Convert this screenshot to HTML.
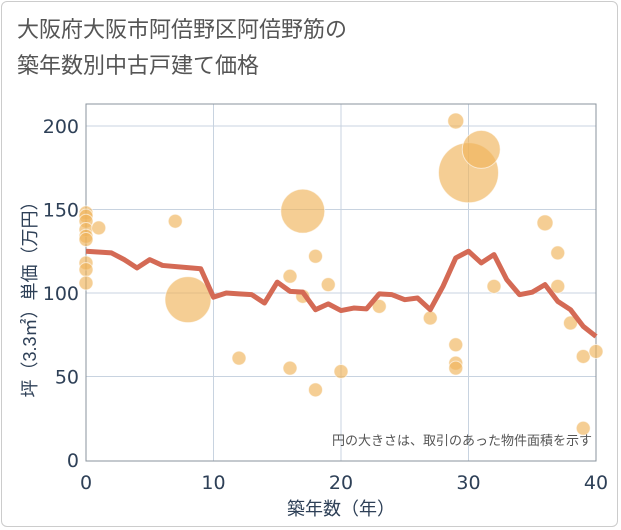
<!DOCTYPE html>
<html><head><meta charset="utf-8"><style>
body{margin:0;background:#fff;}
#wrap{position:relative;width:621px;height:530px;font-family:"Liberation Sans","Noto Sans CJK JP",sans-serif;}
#frame{position:absolute;left:1px;top:1px;width:617px;height:526px;border:1px solid #ccc;border-radius:6px;box-sizing:border-box;}
#title{position:absolute;left:17px;top:12px;font-size:22px;line-height:36px;color:#555;}
svg{position:absolute;left:0;top:0;}
</style></head><body>
<div id="wrap">
<div id="frame"></div>
<div id="title">大阪府大阪市阿倍野区阿倍野筋の<br>築年数別中古戸建て価格</div>
<svg id="chart" width="621" height="530"></svg>
</div>
<script>
const lineYears=[0,2,3,4,5,6,9,10,11,12,13,14,15,16,17,18,19,20,21,22,23,24,25,26,27,28,29,30,31,32,33,34,35,36,37,38,39,40];
const lineValues=[125,124,120,115,120,116.5,114.5,97.5,100,99.5,99,94,106.5,101,100.5,90,93.5,89.5,91,90.5,99.5,99,96,97,90,104,121,125,118,123,108,99,100.5,105,95,90,80,74];
const bubbleYears=[0,0,0,0,0,0,0,0,0,1,7,8,12,16,16,17,17,18,18,19,20,23,27,29,29,29,29,30,31,32,36,37,37,38,39,39,40];
const bubbleValues=[148,146,143,138,134,132,118,114,106,139,143,96,61,110,55,149,98,122,42,105,53,92,85,203,69,58,55,172,186,104,142,124,104,82,62,19,65];
const bubbleSizes=[7,7,7,7,7,7,7,7,7,7,7,23,7,7,7,22,7,7,7,7,7,7,7,8,7,7,7,30,19,7,8,7,7,7,7,7,7];
const xTicks=[0,10,20,30,40];
const yTicks=[0,50,100,150,200];
const L=86,R=596,T=104,B=461;
const X=v=>L+(v/40)*(R-L);
const Y=v=>460-v*(334/200);
const svg=document.getElementById('chart');
const NS='http://www.w3.org/2000/svg';
const TF='"DejaVu Sans","Liberation Sans",sans-serif';
function mk(tag,attrs){const e=document.createElementNS(NS,tag);for(const k in attrs)e.setAttribute(k,attrs[k]);svg.appendChild(e);return e;}
yTicks.forEach(t=>{if(t>0){const g=mk('line',{x1:L,x2:R,y1:Y(t),y2:Y(t),stroke:'#c8d3e0','stroke-width':1});

}
const tx=mk('text',{x:L-7,y:Y(t)+7,'text-anchor':'end','font-size':19,fill:'#2e4057','font-family':TF});tx.textContent=t;

});
xTicks.forEach(t=>{if(t>0&&t<40){const g=mk('line',{x1:X(t),x2:X(t),y1:T,y2:B,stroke:'#c8d3e0','stroke-width':1});

}
const tx=mk('text',{x:X(t),y:489,'text-anchor':'middle','font-size':19,fill:'#2e4057','font-family':TF});tx.textContent=t;

});
const box=mk('rect',{x:L,y:T,width:R-L,height:B-T,fill:'none',stroke:'#8a939c','stroke-width':1});


bubbleYears.forEach((yr,i)=>{const c=mk('circle',{cx:X(yr),cy:Y(bubbleValues[i]),r:bubbleSizes[i],fill:'rgba(240,180,90,0.65)',stroke:'rgba(255,255,255,0.6)','stroke-width':1});

});
const pl=mk('polyline',{points:lineYears.map((y,i)=>X(y)+','+Y(lineValues[i])).join(' '),fill:'none',stroke:'#d46a55','stroke-width':5,'stroke-linejoin':'round'});


const note=mk('text',{x:592,y:445,'text-anchor':'end','font-size':13,fill:'#555'});note.textContent='円の大きさは、取引のあった物件面積を示す';


const xt=mk('text',{x:341,y:515,'text-anchor':'middle','font-size':18,fill:'#2e4057'});xt.textContent='築年数（年）';


const yt=mk('text',{x:0,y:0,'text-anchor':'middle','font-size':18,fill:'#2e4057',transform:'translate(36,295) rotate(-90)'});yt.textContent='坪（3.3㎡）単価（万円）';


</script>
</body></html>
